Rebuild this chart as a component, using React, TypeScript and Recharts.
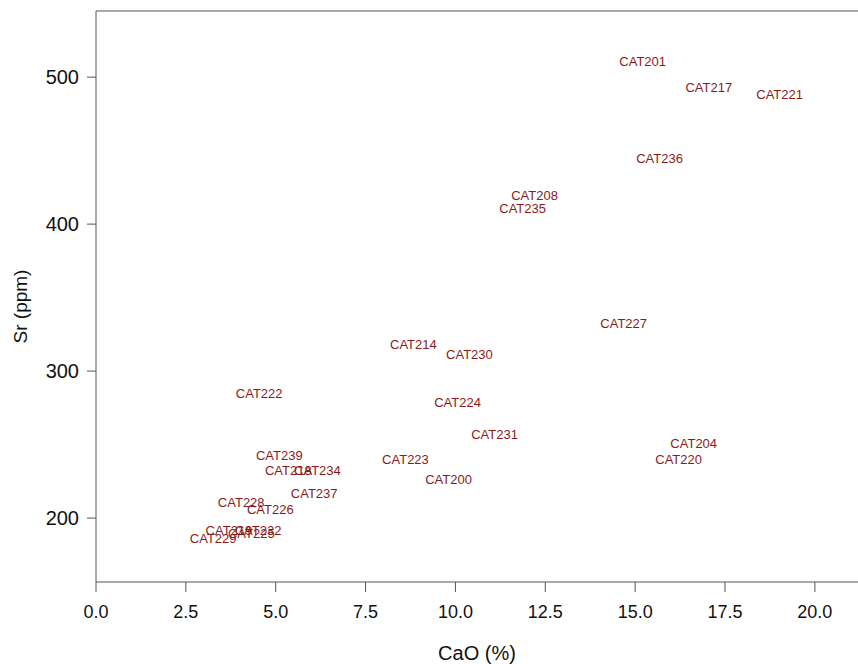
import React from "react";
import {
  ScatterChart, Scatter, XAxis, YAxis, ReferenceLine, Label,
} from "recharts";

// sample ids, CaO (%) and Sr (ppm)
const SAMPLES = [
  "CAT201", "CAT217", "CAT221", "CAT236", "CAT208", "CAT235", "CAT227",
  "CAT214", "CAT230", "CAT222", "CAT224", "CAT231", "CAT204", "CAT220",
  "CAT239", "CAT223", "CAT218", "CAT234", "CAT200", "CAT237", "CAT228",
  "CAT226", "CAT229", "CAT219", "CAT232", "CAT225",
];
const CAO = [
  15.21, 17.05, 19.02, 15.68, 12.2, 11.87, 14.68,
  8.83, 10.39, 4.54, 10.06, 11.09, 16.63, 16.21,
  5.1, 8.61, 5.35, 6.16, 9.81, 6.07, 4.04,
  4.85, 3.26, 3.7, 4.51, 4.32,
];
const SR = [
  510.9, 493.2, 488.4, 444.9, 419.7, 410.9, 332.7,
  318.4, 311.6, 285.0, 278.9, 257.1, 251.0, 240.1,
  242.9, 240.1, 232.7, 232.7, 226.5, 217.0, 210.9,
  206.1, 186.4, 191.8, 191.8, 189.8,
];
const X_TICKS = [0, 2.5, 5, 7.5, 10, 12.5, 15, 17.5, 20];
const Y_TICKS = [200, 300, 400, 500];

const data = SAMPLES.map((id, i) => ({ id, cao: CAO[i], sr: SR[i] }));

const LABEL_RED = "#8b1a1a";
const AXIS = "#555";
const FONT = "Liberation Sans, Arial, sans-serif";

function SampleLabel(props: any) {
  const { cx, cy, payload } = props;
  return (
    <text
      x={cx} y={cy} textAnchor="middle" dominantBaseline="central"
      fontSize={13} fill={LABEL_RED} fontFamily={FONT}
    >
      {payload.id}
    </text>
  );
}

export default function App() {
  return (
    <div style={{ position: "absolute", left: 0, top: 0, background: "#fff" }}>
      <ScatterChart width={858} height={664} margin={{ top: 11, right: 0, left: 0, bottom: 0 }}>
        <XAxis
          type="number" dataKey="cao" domain={[0, 21.2]} ticks={X_TICKS}
          allowDataOverflow tickFormatter={(v) => v.toFixed(1)}
          height={82} tickSize={10} tickMargin={13}
          stroke={AXIS}
          tick={{ fill: "#111", fontSize: 18, fontFamily: FONT }}
        >
          <Label
            value="CaO (%)" position="insideBottom" offset={4}
            style={{ fill: "#111", fontSize: 20, fontFamily: FONT }}
          />
        </XAxis>
        <YAxis
          type="number" dataKey="sr" domain={[156.5, 545]} ticks={Y_TICKS}
          allowDataOverflow width={96} tickSize={9} tickMargin={8}
          stroke={AXIS}
          tick={{ fill: "#111", fontSize: 20, fontFamily: FONT }}
        >
          <Label
            value="Sr (ppm)" angle={-90} position="insideLeft" offset={20} dy={10}
            style={{ textAnchor: "middle", fill: "#111", fontSize: 19, fontFamily: FONT }}
          />
        </YAxis>
        <ReferenceLine y={545} stroke={AXIS} ifOverflow="visible" />
        <Scatter data={data} shape={<SampleLabel />} isAnimationActive={false} />
      </ScatterChart>
    </div>
  );
}
